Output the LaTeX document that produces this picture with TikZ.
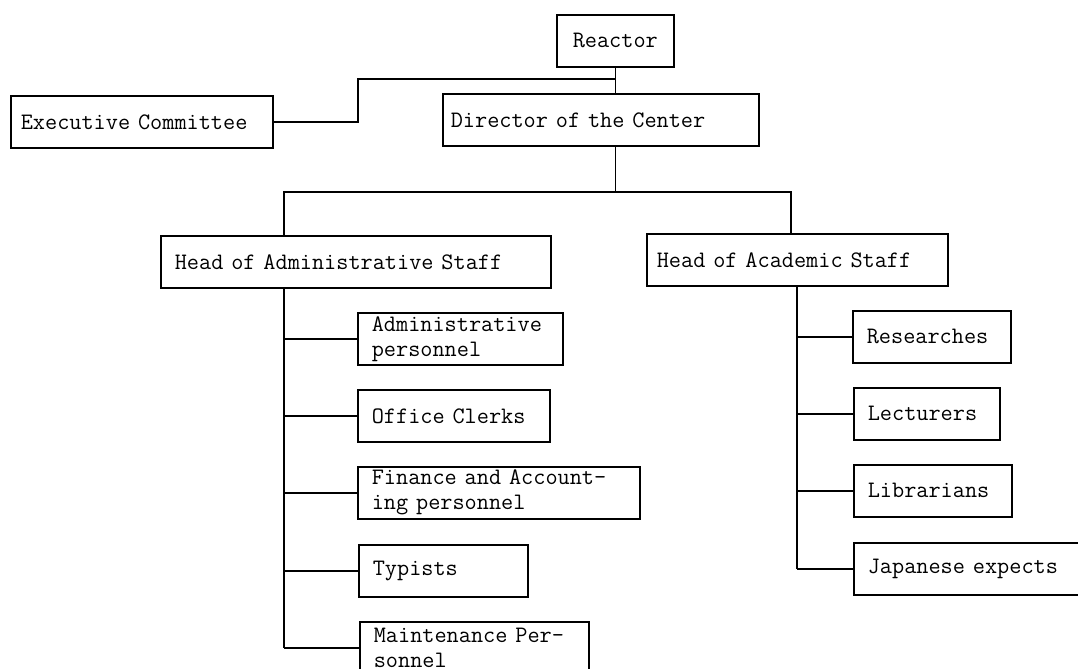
\documentclass[tikz,border=0pt]{standalone}

\begin{document}
\begin{tikzpicture}[
    x=0.5pt, y=-0.5pt,
    unit/.style={draw, line width=0.8pt, anchor=north west,
        inner xsep=7pt, inner ysep=0pt, minimum height=26pt, align=left,
        font=\fontsize{11.8}{12.5}\selectfont\ttfamily},
    link/.style={line width=0.8pt}
]
\useasboundingbox (0,0) rectangle (1078,669);
\clip (0,0) rectangle (1078,669);

% top of the chart
\node[unit, text width=44.5pt, align=center] (reactor) at (556,14) {Reactor};
\node[unit, inner xsep=5pt, text width=121pt] (exec) at (10,95) {Executive Committee};
\node[unit, inner xsep=4pt, text width=150pt] (director) at (442,93) {Director of the Center};

% the two heads
\node[unit, text width=181pt] (headadm) at (160,235) {Head of Administrative Staff};
\node[unit, inner xsep=5pt, text width=140.5pt] (headacad) at (646,233) {Head of Academic Staff};

% administrative side
\node[unit, text width=88.5pt] (admpers) at (357,312) {Administrative\\personnel};
\node[unit, text width=82pt] (clerks) at (357,389) {Office Clerks};
\node[unit, text width=127pt] (finance) at (357,466) {Finance and Account-\\ing personnel};
\node[unit, text width=70.5pt] (typists) at (358,544) {Typists};
\node[unit, text width=100.5pt] (maint) at (359,621) {Maintenance Per-\\sonnel};

% academic side
\node[unit, text width=65pt] (research) at (852,310) {Researches};
\node[unit, text width=59pt] (lecturers) at (853,387) {Lecturers};
\node[unit, text width=65pt] (librarians) at (853,464) {Librarians};
\node[unit, text width=103.5pt] (japanese) at (853,542) {Japanese expects};

\coordinate (ecbend) at (358,79);
\coordinate (admtop) at (284,192);
\coordinate (acadtop) at (791,192);
\coordinate (acadline) at (797,0);

\draw[link] (reactor.south) -- (reactor.south |- director.north);
\draw[link] (exec.east) -| (ecbend) -- (ecbend -| reactor.south);
\draw[link] (reactor.south |- director.south) -- (reactor.south |- admtop);
\draw[link] (admtop |- headadm.north) -- (admtop) -- (acadtop) -- (acadtop |- headacad.north);

% branches
\draw[link] (admtop |- headadm.south) -- (admtop |- maint.west);
\foreach \n in {admpers,clerks,finance,typists,maint}
  \draw[link] (admtop |- \n.west) -- (\n.west);
\draw[link] (acadline |- headacad.south) -- (acadline |- japanese.west);
\foreach \n in {research,lecturers,librarians,japanese}
  \draw[link] (acadline |- \n.west) -- (\n.west);
\end{tikzpicture}
\end{document}
